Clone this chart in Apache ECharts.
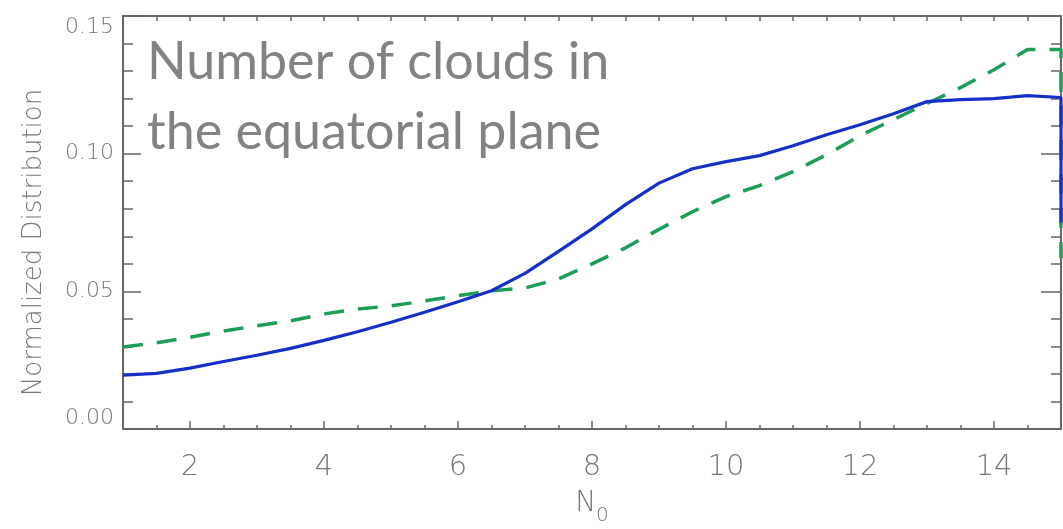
<!DOCTYPE html>
<html>
<head>
<meta charset="utf-8">
<script src="https://cdn.jsdelivr.net/npm/echarts@6/dist/echarts.min.js"></script>
<style>
html,body{margin:0;padding:0;background:#fff;}
#c{width:1063px;height:529px;}
</style>
</head>
<body>
<div id="c"></div>
<script>
// N0 sample positions (last point repeats x=15 where the curves drop at the edge)
const nValues = [1,1.5,2,2.5,3,3.5,4,4.5,5,5.5,6,6.5,7,7.5,8,8.5,9,9.5,10,10.5,11,11.5,12,12.5,13,13.5,14,14.5,15,15];
const solidBlue = [0.0196,0.0202,0.0221,0.0245,0.0268,0.0293,0.0322,0.0353,0.0388,0.0424,0.0462,0.0502,0.0565,0.0645,0.0727,0.0815,0.0893,0.0945,0.0971,0.0993,0.1029,0.1069,0.1105,0.1145,0.1189,0.1196,0.1200,0.1211,0.1204,0.075];
const dashedGreen = [0.0298,0.0313,0.0333,0.0356,0.0375,0.0393,0.0418,0.0436,0.0447,0.0465,0.0484,0.0502,0.0512,0.0545,0.0600,0.0658,0.0725,0.0789,0.0844,0.0884,0.0935,0.0996,0.1065,0.1124,0.1182,0.1240,0.1305,0.1378,0.1378,0.062];
const xMajorTicks = [2,4,6,8,10,12,14];
const yTickLabels = ['0.00','0.05','0.10','0.15'];
const titleLines = ['Number of clouds in','the equatorial plane'];

const pairs = (ys) => nValues.map((x, i) => [x, ys[i]]);
const axisColor = '#666';
const labelColor = '#777';
const labelFont = 'DejaVu Sans';

const chart = echarts.init(document.getElementById('c'), null, {renderer: 'canvas'});
chart.setOption({
  animation: false,
  backgroundColor: '#fff',
  title: {
    text: titleLines.join('\n'),
    left: 142, top: 22,
    textStyle: {color: '#808385', fontSize: 52, fontWeight: 'normal', fontFamily: 'Lato', lineHeight: 70}
  },
  grid: {left: 123, right: 2, top: 16, bottom: 100, containLabel: false, outerBoundsMode: 'none'},
  xAxis: [
    {
      type: 'value', position: 'bottom', min: 1, max: 15,
      axisLine: {show: true, onZero: false, lineStyle: {color: axisColor, width: 2}},
      axisTick: {show: true, inside: true, length: 8, customValues: xMajorTicks, lineStyle: {color: axisColor, width: 1.5}},
      axisLabel: {customValues: xMajorTicks, color: labelColor, fontSize: 29, fontFamily: labelFont, margin: 24, fontWeight: 200},
      splitLine: {show: false},
      name: 'N{s|0}', nameLocation: 'middle', nameGap: 61,
      nameTextStyle: {color: labelColor, fontSize: 28, fontFamily: labelFont, fontWeight: 200,
        rich: {s: {fontSize: 20, color: labelColor, fontFamily: labelFont, verticalAlign: 'bottom', padding: [0,0,-8,0]}}}
    },
    {
      type: 'value', position: 'bottom', min: 1, max: 15, interval: 0.5,
      axisLine: {show: false, onZero: false},
      axisTick: {show: true, inside: true, length: 4, lineStyle: {color: axisColor, width: 1.5}},
      axisLabel: {show: false}, splitLine: {show: false}
    },
    {
      type: 'value', position: 'top', min: 1, max: 15, interval: 0.5,
      axisLine: {show: true, onZero: false, lineStyle: {color: axisColor, width: 2}},
      axisTick: {show: true, inside: true, length: 5, lineStyle: {color: axisColor, width: 1.5}},
      axisLabel: {show: false}, splitLine: {show: false}
    }
  ],
  yAxis: [
    {
      type: 'value', position: 'left', min: 0, max: 0.15, interval: 0.05,
      axisLine: {show: true, onZero: false, lineStyle: {color: axisColor, width: 2}},
      axisTick: {show: true, inside: true, length: 18, lineStyle: {color: axisColor, width: 1.5}},
      minorTick: {show: true, splitNumber: 5, length: 10, lineStyle: {color: axisColor, width: 1.5}},
      axisLabel: {color: labelColor, fontSize: 22, fontFamily: labelFont, fontWeight: 200, margin: 9,
        formatter: (v) => yTickLabels[Math.round(v / 0.05)],
        verticalAlignMaxLabel: 'top', verticalAlignMinLabel: 'bottom'},
      splitLine: {show: false}, minorSplitLine: {show: false},
      name: 'Normalized Distribution', nameLocation: 'middle', nameGap: 76,
      nameTextStyle: {color: labelColor, fontSize: 26, fontFamily: labelFont, fontWeight: 200, padding: [0, 40, 0, 0]}
    },
    {
      type: 'value', position: 'right', min: 0, max: 0.15, interval: 0.05,
      axisLine: {show: true, onZero: false, lineStyle: {color: axisColor, width: 2}},
      axisTick: {show: true, inside: true, length: 20, lineStyle: {color: axisColor, width: 1.5}},
      minorTick: {show: true, splitNumber: 5, length: 10, lineStyle: {color: axisColor, width: 1.5}},
      axisLabel: {show: false}, splitLine: {show: false}, minorSplitLine: {show: false}
    }
  ],
  series: [
    {
      type: 'line', xAxisIndex: 0, yAxisIndex: 0, data: pairs(dashedGreen), symbol: 'none',
      lineStyle: {color: '#1c9e57', width: 3.5, type: [20, 14]}, z: 2
    },
    {
      type: 'line', xAxisIndex: 0, yAxisIndex: 0, data: pairs(solidBlue), symbol: 'none',
      lineStyle: {color: '#1530c8', width: 3.2}, z: 3
    }
  ]
});
</script>
</body>
</html>
